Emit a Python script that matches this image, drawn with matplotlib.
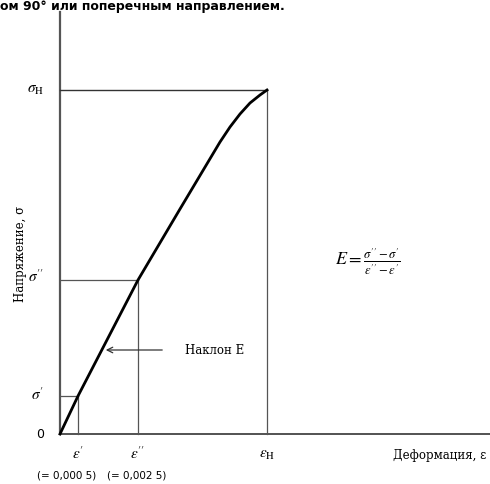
import matplotlib.pyplot as plt
import numpy as np

plt.rcParams['mathtext.fontset'] = 'stix'

# curve (arbitrary units: strain right, stress up)
strain = [0, 18, 78, 120, 160, 170, 180, 190, 200, 207]
stress = [0, 38, 154, 225, 292, 307, 320, 331, 339, 344]

eps1, eps2, epsH = 18, 78, 207
sig1, sig2, sigH = 38, 154, 344

fig = plt.figure(figsize=(4.9, 4.84), dpi=100)
ax = fig.add_axes([0, 0, 1, 1])
ax.set_xlim(-60, 430)
ax.set_ylim(-50, 434)
ax.axis('off')

# axes lines
ax.plot([0, 0], [0, 422], color='#555555', lw=1.6)
ax.plot([0, 430], [0, 0], color='#444444', lw=1.3)

# guide lines
ax.plot([0, epsH], [sigH, sigH], color='#333333', lw=1.0)
ax.plot([epsH, epsH], [0, sigH], color='#555555', lw=0.9)
ax.plot([0, eps2], [sig2, sig2], color='#555555', lw=0.9)
ax.plot([eps2, eps2], [0, sig2], color='#555555', lw=0.9)
ax.plot([0, eps1], [sig1, sig1], color='#555555', lw=0.9)
ax.plot([eps1, eps1], [0, sig1], color='#555555', lw=0.9)

# curve
ax.plot(strain, stress, color='black', lw=2.0, solid_joinstyle='round')

# slope arrow
ax.annotate('', xy=(43, 84), xytext=(105, 84),
            arrowprops=dict(arrowstyle='->', color='#333333', lw=0.9))
ax.text(125, 84, 'Наклон E', fontsize=8.5, family='DejaVu Serif', va='center')

# tick labels
ax.text(-16, sigH, r'$\sigma_{\rm H}$', fontsize=11, ha='right', va='center')
ax.text(-16, sig2 + 3, r"$\sigma''$", fontsize=11, ha='right', va='center')
ax.text(-16, sig1 + 1, r"$\sigma'$", fontsize=11, ha='right', va='center')
ax.text(-16, 0, '0', fontsize=9, family='DejaVu Sans', ha='right', va='center')
ax.text(eps1, -20, r"$\varepsilon'$", fontsize=11, ha='center', va='center')
ax.text(eps2, -20, r"$\varepsilon''$", fontsize=11, ha='center', va='center')
ax.text(epsH, -20, r'$\varepsilon_{\rm H}$', fontsize=11, ha='center', va='center')
ax.text(-23, -42, '(= 0,000 5)', fontsize=7.5, family='DejaVu Sans', va='center')
ax.text(47, -42, '(= 0,002 5)', fontsize=7.5, family='DejaVu Sans', va='center')

# axis titles
ax.text(-40, 180, 'Напряжение, σ', fontsize=8.5, family='DejaVu Serif',
        rotation=90, ha='center', va='center')
ax.text(380, -21, 'Деформация, ε', fontsize=8.5, family='DejaVu Serif',
        ha='center', va='center')

# formula
ax.text(275, 172, r"$E = \frac{\sigma'' - \sigma'}{\varepsilon'' - \varepsilon'}$",
        fontsize=13, va='center')

# caption at the top (cut in the scan)
fig.text(0.0, 0.999, 'ом 90° или поперечным направлением.', fontsize=9,
         family='DejaVu Sans', weight='bold', va='top')

fig.savefig('out.png', dpi=100)
